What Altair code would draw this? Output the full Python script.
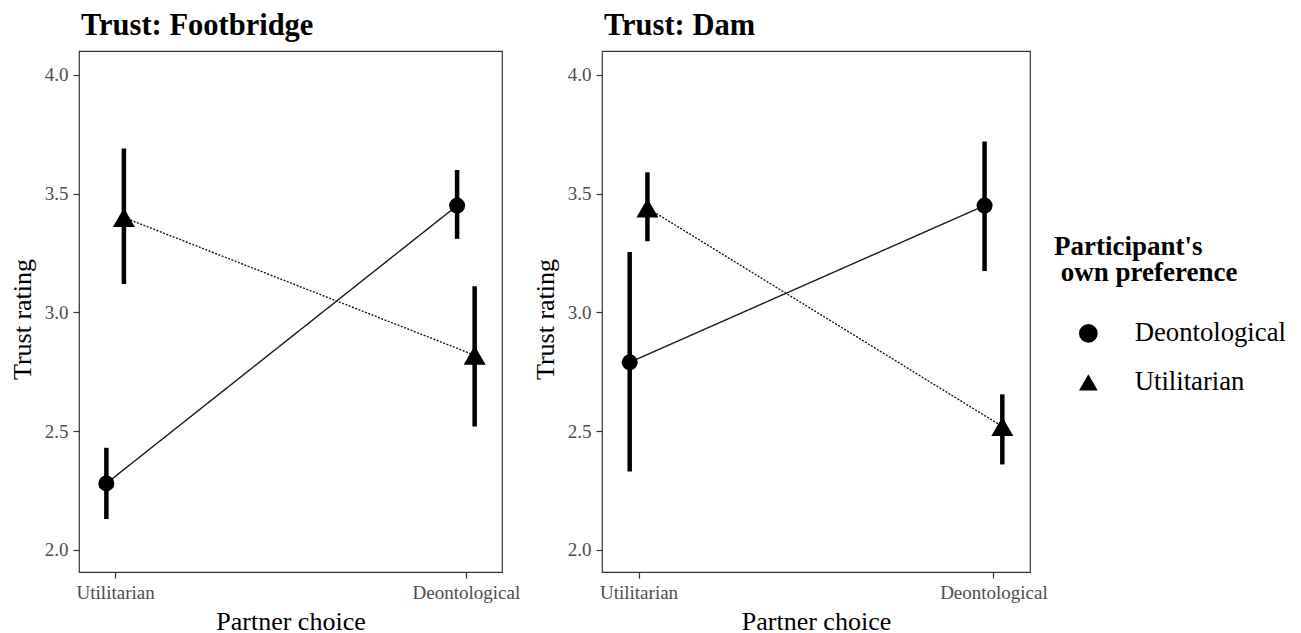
import altair as alt
import pandas as pd

# ---- data ----
panel_titles = ["Trust: Footbridge", "Trust: Dam"]
partner_choices = ["Utilitarian", "Deontological"]      # x categories (positions 1, 2)
own_prefs = ["Deontological", "Utilitarian"]             # legend / series
own_shapes = ["circle", "triangle-up"]
own_sizes = [256, 484]

# Footbridge: values per partner choice [Utilitarian, Deontological]
fb_deon_mean = [2.28, 3.45]
fb_deon_lo = [2.13, 3.31]
fb_deon_hi = [2.43, 3.60]
fb_util_mean = [3.40, 2.82]
fb_util_lo = [3.12, 2.52]
fb_util_hi = [3.69, 3.11]

# Dam
dam_deon_mean = [2.79, 3.45]
dam_deon_lo = [2.33, 3.175]
dam_deon_hi = [3.255, 3.72]
dam_util_mean = [3.44, 2.52]
dam_util_lo = [3.30, 2.36]
dam_util_hi = [3.59, 2.655]

y_ticks = [2.0, 2.5, 3.0, 3.5, 4.0]

SERIF = "Liberation Serif"


def build_df(deon, util):
    rows = []
    for own, (m, lo, hi) in zip(own_prefs, [deon, util]):
        for i, pc in enumerate(partner_choices):
            rows.append({"partner": pc, "idx": i + 1, "own": own,
                         "mean": m[i], "lo": lo[i], "hi": hi[i]})
    return pd.DataFrame(rows)


df_fb = build_df((fb_deon_mean, fb_deon_lo, fb_deon_hi), (fb_util_mean, fb_util_lo, fb_util_hi))
df_dam = build_df((dam_deon_mean, dam_deon_lo, dam_deon_hi), (dam_util_mean, dam_util_lo, dam_util_hi))

label_expr = "datum.value == 1 ? '%s' : '%s'" % (partner_choices[0], partner_choices[1])


def panel(df, title, width, show_legend):
    base = alt.Chart(df).transform_calculate(
        xpos="datum.idx + (datum.own == '%s' ? -0.025 : 0.025)" % own_prefs[0]
    )
    xscale = alt.Scale(domain=[0.897, 2.103], nice=False, zero=False)
    yscale = alt.Scale(domain=[1.907, 4.101], nice=False, zero=False)
    xaxis = alt.Axis(values=[1, 2], labelExpr=label_expr, title="Partner choice",
                     grid=False, titlePadding=6)
    yaxis = alt.Axis(values=y_ticks, format=".1f", title="Trust rating", grid=False,
                     titlePadding=9, titleY=268)
    x = alt.X("xpos:Q", scale=xscale, axis=xaxis)
    y = alt.Y("mean:Q", scale=yscale, axis=yaxis)

    lines = base.mark_line(color="#1a1a1a", strokeWidth=1.4).encode(
        x=x, y=y,
        strokeDash=alt.StrokeDash("own:N", scale=alt.Scale(domain=own_prefs, range=[[1, 0], [2, 1.5]]),
                                  legend=None),
        detail="own:N",
    )
    rules = base.mark_rule(color="black", strokeWidth=4.5).encode(
        x=x,
        y=alt.Y("lo:Q", scale=yscale, axis=yaxis),
        y2="hi:Q",
    )
    if show_legend:
        leg = alt.Legend(title=["Participant's", "\u200b\u00a0own preference"],
                         orient="none", legendX=452, legendY=183)
    else:
        leg = None
    layers = [lines, rules]
    for own, sz in zip(own_prefs, own_sizes):
        layers.append(
            base.transform_filter(alt.datum.own == own)
            .mark_point(filled=True, color="black", opacity=1, size=sz)
            .encode(
                x=x, y=y,
                shape=alt.Shape("own:N", scale=alt.Scale(domain=own_prefs, range=own_shapes),
                                legend=leg),
            )
        )
    return alt.layer(*layers).properties(
        width=width, height=521,
        title=alt.TitleParams(title, anchor="start", frame="group", font=SERIF, fontSize=30.5,
                              fontWeight="bold", color="black", baseline="bottom", offset=-20,
                              dx=2),
    )


chart = alt.hconcat(
    panel(df_fb, panel_titles[0], 423, False),
    panel(df_dam, panel_titles[1], 428, True),
    spacing=10,
).resolve_scale(shape="independent").resolve_legend(shape="independent").properties(
    padding={"left": 0, "top": 1, "right": 0, "bottom": 0},
).configure_view(
    stroke="#333333", strokeWidth=1.2,
).configure_axis(
    domain=False, tickColor="#333333", tickSize=6, tickWidth=1.2,
    labelFont=SERIF, labelFontSize=19, labelColor="#4d4d4d", labelPadding=5,
    titleFont=SERIF, titleFontSize=26, titleFontWeight="normal", titleColor="black",
).configure_legend(
    titleFont=SERIF, titleFontSize=27, titleFontWeight="bold", titleColor="black",
    titleLineHeight=26, titlePadding=33, padding=0, titleLimit=400, labelLimit=400,
    labelFont=SERIF, labelFontSize=26.7, labelColor="black",
    symbolFillColor="black", symbolStrokeWidth=0, symbolSize=350,
    symbolOffset=21, labelOffset=33, rowPadding=21,
)

chart.save("out.html", embed_options={"renderer": "svg", "actions": False})
